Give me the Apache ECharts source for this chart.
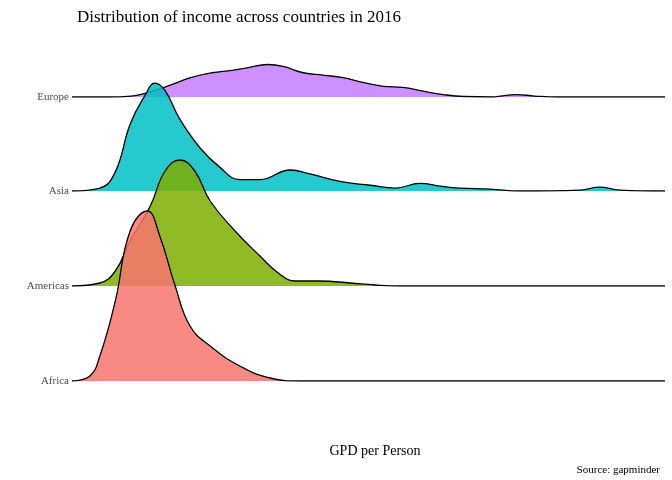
<!DOCTYPE html>
<html><head><meta charset="utf-8">
<script src="https://cdn.jsdelivr.net/npm/echarts@6/dist/echarts.min.js"></script>
<style>html,body{margin:0;background:#fff}#c{width:672px;height:480px}</style></head>
<body><div id="c"></div>
<script>
const categories = ['Europe','Asia','Americas','Africa'];
const colors = ['#C77CFF','#00BFC4','#7CAE00','#F8766D'];
// x: position along GDP axis (0-100 relative scale), h: ridge height (scaled density)
const europeX = [0,6,10,13,16.7,20,23.6,27,29.5,33,35.6,39,42.3,45.7,49,52.5,55.8,59.2,62.6,66,71,72.2,75,78,82,100];
const europeH = [0,0,2,10,25,40,50,55,60,67,63,50,45,40,30,22,20,12,5,1,0,2,5,2,0,0];
const asiaX = [0,4.7,7.3,9.8,12.3,14,15.7,18.2,21.6,24.9,28.3,31.7,36.8,40.1,45.2,50.3,54.5,58.7,62.1,65.4,70.5,75.5,85.7,89,92.4,100];
const asiaH = [0,3,20,70,100,113,105,75,45,25,12,12,22,18,10,6,3,8,5,3,2,0,1,4,1,0];
const americasX = [0,4.7,7.3,9.8,13.2,15.7,18.2,20.7,23.3,27.5,31.7,35,37.6,41.8,46.9,51.1,55.3,100];
const americasH = [0,3,15,45,80,115,126,115,85,55,30,12,5,5,3,1,0,0];
const africaX = [0,3,4.7,7.3,9.8,12.7,14.8,17.4,19.9,23.3,28.3,33.4,38.4,100];
const africaH = [0,5,25,80,150,170,145,95,55,35,15,3,0,0];
const seriesX = [europeX, asiaX, americasX, africaX];
const seriesH = [europeH, asiaH, americasH, africaH];

const baselines = [97,191,286,381];
const H = 200;
const grids=[],xAxes=[],yAxes=[],series=[];
categories.forEach((name,i)=>{
  grids.push({left:72,right:7,bottom:480-baselines[i],height:H});
  xAxes.push({gridIndex:i,type:'value',min:0,max:100,show:false});
  yAxes.push({gridIndex:i,type:'value',min:0,max:H,interval:H,splitLine:{show:false},axisLine:{show:false},axisTick:{show:false},
    axisLabel:{formatter:v=>v===0?name:'',fontFamily:'Liberation Serif',fontSize:11,color:'#4d4d4d',margin:3}});
  series.push({type:'line',xAxisIndex:i,yAxisIndex:i,data:seriesX[i].map((x,j)=>[x,seriesH[i][j]]),
    smooth:0.45,symbol:'none',lineStyle:{color:'#000',width:1.3},
    areaStyle:{color:colors[i],opacity:0.85},z:2+i});
});
const chart=echarts.init(document.getElementById('c'));
chart.setOption({animation:false,
  title:[{text:'Distribution of income across countries in 2016',left:72,top:4,textStyle:{fontFamily:'Liberation Serif',fontSize:17,fontWeight:'normal',color:'#000'}},
    {text:'GPD per Person',left:370,top:439,textAlign:'center',textStyle:{fontFamily:'Liberation Serif',fontSize:14,fontWeight:'normal',color:'#000'}},
    {text:'Source: gapminder',right:7,top:460,textStyle:{fontFamily:'Liberation Serif',fontSize:11,fontWeight:'normal',color:'#000'}}],
  grid:grids,xAxis:xAxes,yAxis:yAxes,series});
</script></body></html>
